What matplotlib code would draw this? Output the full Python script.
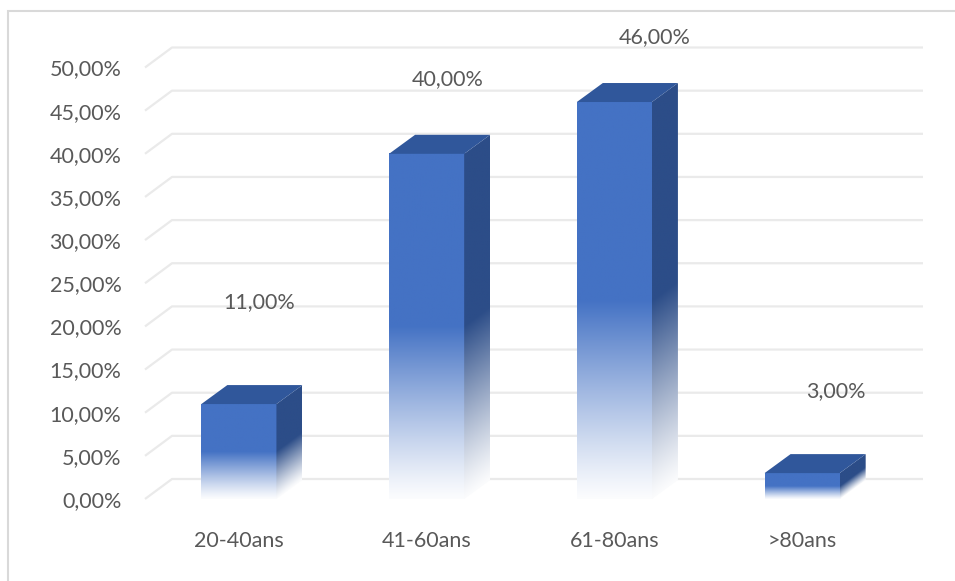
import numpy as np
import matplotlib
matplotlib.use("Agg")
import matplotlib.pyplot as plt
from matplotlib.patches import Polygon, Rectangle
from matplotlib.colors import to_rgb

categories = ["20-40ans", "41-60ans", "61-80ans", ">80ans"]
values = [11.0, 40.0, 46.0, 3.0]
yticks = [0, 5, 10, 15, 20, 25, 30, 35, 40, 45, 50]
label_dx_px = [20, 21, 40, 34]
label_dy_px = [102, 75, 65, 82]

FRONT = "#4472C4"
TOP = "#30579B"
SIDE = "#2C4D88"
GRID = "#EAEAEA"
TXT = "#595959"

plt.rcParams['font.family'] = ['Lato', 'DejaVu Sans']

W, H = 955, 581
fig = plt.figure(figsize=(W / 100, H / 100), dpi=100)
fig.patch.set_facecolor("white")
ax_left, ax_right, ax_top, ax_bot = 145, 896, 67.5, 499
ax = fig.add_axes([ax_left / W, 1 - ax_bot / H, (ax_right - ax_left) / W, (ax_bot - ax_top) / H])
ax.set_xlim(-0.5, 3.5)
ax.set_ylim(0, 50)
for s in ax.spines.values():
    s.set_visible(False)
ax.set_facecolor("none")

ppx = (ax_right - ax_left) / 4.0
ppy = (ax_bot - ax_top) / 50.0
bdx, bdy = 26 / ppx, 19 / ppy
gdx, gdy = 27 / ppx, 20 / ppy

# 3D gridlines
for v in yticks:
    ax.plot([-0.5, -0.5 + gdx, 3.5 + gdx], [v, v + gdy, v + gdy], color=GRID,
            lw=1.6, solid_capstyle='butt', clip_on=False, zorder=1)

ax.set_yticks(yticks)
ax.set_yticklabels([f"{v:.2f}".replace(".", ",") + "%" for v in yticks])
ax.set_xticks(range(len(categories)))
ax.set_xticklabels(categories)
ax.tick_params(axis='y', length=0, pad=17, labelsize=15.5, labelcolor=TXT)
ax.tick_params(axis='x', length=0, pad=23, labelsize=15.5, labelcolor=TXT)

bw = 0.4
white = np.array([1.0, 1.0, 1.0])


def fade(t, base):
    f = np.clip(t / 0.5, 0, 1) ** 1.15
    f = 0.02 + 0.98 * f
    c = np.array(to_rgb(base))
    return white * (1 - f[..., None]) + c * f[..., None]


for i, v in enumerate(values):
    xl, xr = i - bw / 2, i + bw / 2
    # front face gradient
    ny = 200
    t = np.linspace(0, 1, ny)[::-1]
    img = fade(t, FRONT)[:, None, :].repeat(2, axis=1)
    ax.imshow(img, extent=[xl, xr, 0, v], aspect='auto', interpolation='bilinear', zorder=3)
    # side face gradient (follows the skew)
    nx, ny2 = 60, 240
    xs = np.linspace(xr, xr + bdx, nx)
    ys = np.linspace(v + bdy, 0, ny2)
    X, Y = np.meshgrid(xs, ys)
    Yeq = Y - (X - xr) * (bdy / bdx)
    ts = Yeq / v
    simg = fade(ts, SIDE)
    im = ax.imshow(simg, extent=[xr, xr + bdx, 0, v + bdy], aspect='auto',
                   interpolation='bilinear', zorder=3)
    side = Polygon([(xr, 0), (xr, v), (xr + bdx, v + bdy), (xr + bdx, bdy)],
                   closed=True, facecolor='none', edgecolor='none', transform=ax.transData)
    ax.add_patch(side)
    im.set_clip_path(side)
    # top face
    ax.add_patch(Polygon([(xl, v), (xr, v), (xr + bdx, v + bdy), (xl + bdx, v + bdy)],
                         closed=True, facecolor=TOP, edgecolor='none', zorder=4))
    ax.annotate(f"{v:.2f}".replace(".", ",") + "%", xy=(i, v),
                xytext=(label_dx_px[i], label_dy_px[i]), textcoords='offset pixels',
                ha='center', va='center', fontsize=15.5, color=TXT,
                annotation_clip=False, zorder=5)

ax.set_xlim(-0.5, 3.5)
ax.set_ylim(0, 50)

fig.add_artist(Rectangle((7.5 / W, -0.1), 1.2, (H - 11) / H + 0.1, transform=fig.transFigure,
                         fill=False, edgecolor="#D9D9D9", lw=1.5))

fig.savefig("out.png", dpi=100, facecolor="white")
